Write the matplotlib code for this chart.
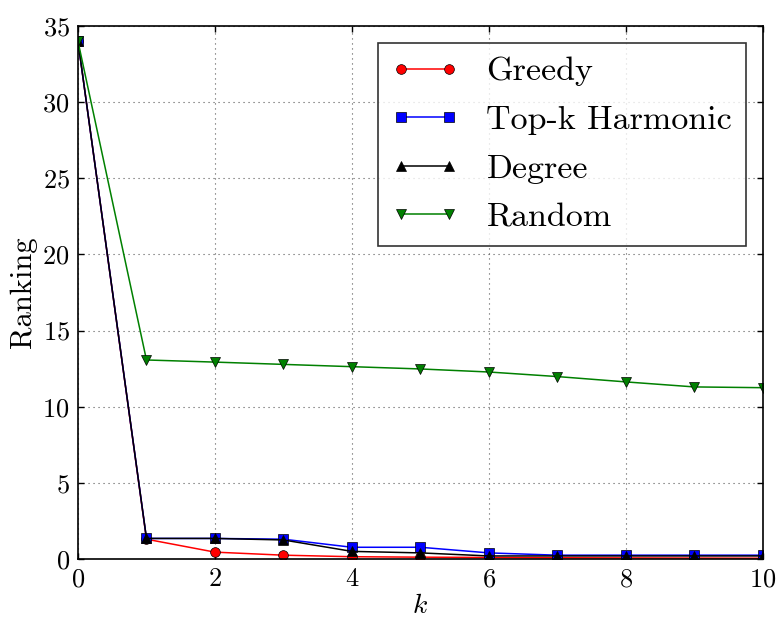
import matplotlib
matplotlib.use("Agg")
import matplotlib.pyplot as plt

k = [0, 1, 2, 3, 4, 5, 6, 7, 8, 9, 10]
greedy = [34, 1.3, 0.45, 0.25, 0.15, 0.12, 0.1, 0.08, 0.07, 0.06, 0.05]
topk_harmonic = [34, 1.35, 1.35, 1.3, 0.77, 0.77, 0.4, 0.25, 0.25, 0.25, 0.25]
degree = [34, 1.35, 1.35, 1.25, 0.5, 0.4, 0.2, 0.2, 0.2, 0.2, 0.2]
random_sel = [34, 13.07, 12.93, 12.78, 12.63, 12.48, 12.28, 11.98, 11.63, 11.3, 11.25]

plt.rcParams['font.family'] = 'cmr10'
plt.rcParams['mathtext.fontset'] = 'cm'
plt.rcParams['axes.formatter.use_mathtext'] = True
plt.rcParams['xtick.direction'] = 'in'
plt.rcParams['ytick.direction'] = 'in'
plt.rcParams['xtick.top'] = True
plt.rcParams['ytick.right'] = True

fig, ax = plt.subplots(figsize=(7.76, 6.2), dpi=100)
fig.subplots_adjust(left=0.1005, right=0.983, top=0.958, bottom=0.0984)

mk = dict(markersize=7, mec='black', mew=0.5, lw=1.1)
ax.plot(k, greedy, color='red', marker='o', label='Greedy', **mk)
ax.plot(k, topk_harmonic, color='blue', marker='s', label='Top-k Harmonic', **mk)
ax.plot(k, degree, color='black', marker='^', label='Degree', **mk)
ax.plot(k, random_sel, color='green', marker='v', label='Random', **mk)

ax.set_xlim(0, 10)
ax.set_ylim(0, 35)
ax.set_xticks(range(0, 11, 2))
ax.set_yticks(range(0, 36, 5))
ax.tick_params(labelsize=19, length=4, width=1, pad=6)
ax.grid(True, color='0.35', linestyle=(0, (1, 3.5)), linewidth=0.8)
for s in ax.spines.values():
    s.set_linewidth(1.2)

ax.set_xlabel(r'$k$', fontsize=20, labelpad=1)
ax.set_ylabel('Ranking', fontsize=22, labelpad=4)

leg = ax.legend(loc='upper right', fontsize=24.5, frameon=True, fancybox=False,
                edgecolor='black', numpoints=2, labelspacing=0.55)
leg.get_frame().set_linewidth(1.2)

fig.savefig('out.png', dpi=100)
